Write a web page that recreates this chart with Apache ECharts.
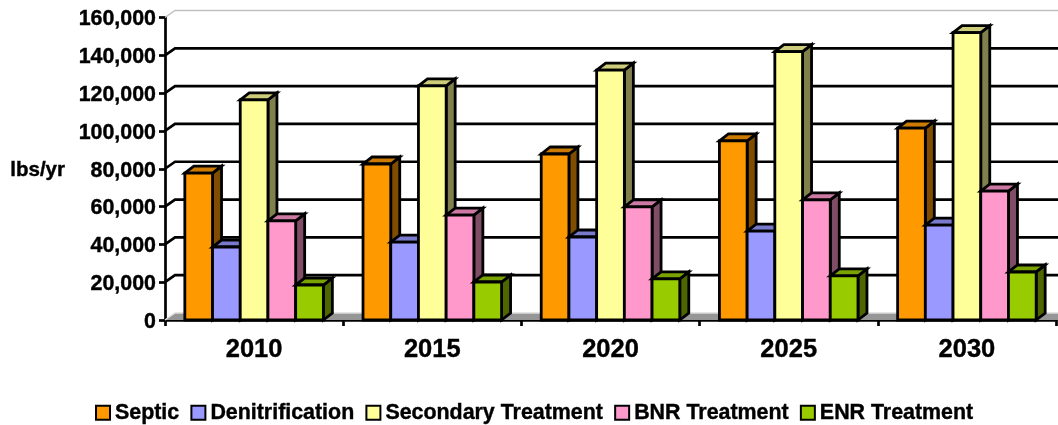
<!DOCTYPE html>
<html><head><meta charset="utf-8">
<style>html,body{margin:0;padding:0;background:#fff}#c{width:1058px;height:425px}</style>
<script src="https://cdn.jsdelivr.net/npm/echarts@6/dist/echarts.min.js"></script>
</head><body><div id="c"></div>
<script>
const categories = ['2010','2015','2020','2025','2030'];
const septic = [77700,82500,87800,94700,101500];
const denitrification = [38600,41200,43900,47000,50200];
const secondary = [116400,123800,132200,142000,152000];
const bnr = [52400,55500,59800,63500,68200];
const enr = [18500,20100,21700,23300,25400];
const yTicks = [0,20000,40000,60000,80000,100000,120000,140000,160000];
const DX = 10, DY = 7, BAR_FRAC = 0.1555, BDX = 9, BDY = 7;
const FONT = '"Liberation Sans",Arial,sans-serif';
const HEAVY = {textBorderColor:'#000',textBorderWidth:0.4};
const seriesDefs = [
  ['Septic',septic,'#FF9900','#CC7A00','#804D00'],
  ['Denitrification',denitrification,'#9999FF','#7A7ACC','#4D4D80'],
  ['Secondary Treatment',secondary,'#FFFF99','#CCCC7A','#80804D'],
  ['BNR Treatment',bnr,'#FF99CC','#CC7AA3','#804D66'],
  ['ENR Treatment',enr,'#99CC00','#7AA300','#4D6600']
];
const chart = echarts.init(document.getElementById('c'),null,{renderer:'canvas'});
const wall = {
  type:'custom', name:'wall', silent:true, z:1, clip:false,
  data: yTicks.map(v=>[0,v]),
  encode:{x:0,y:1},
  renderItem(params,api){
    const cs = params.coordSys, v = api.value(1), y = api.coord([0,v])[1];
    const x0 = cs.x, x1 = cs.x+cs.width+DX;
    const children = [];
    if (v===0){
      children.push({type:'polygon',shape:{points:[[x0,y],[x0+DX,y-DY],[x1,y-DY],[x1,y]]},style:{fill:'#969696'}});
      children.push({type:'polyline',shape:{points:[[x0,y],[x0+DX,y-DY],[x1,y-DY]]},style:{fill:'none',stroke:'#DDDDDD',lineWidth:1.5}});
    } else {
      const top = v===yTicks[yTicks.length-1];
      children.push({type:'polyline',shape:{points:[[x0,y],[x0+DX,y-DY],[x1,y-DY]]},
        style:{fill:'none',stroke:top?'#C0C0C0':'#000',lineWidth:top?1.5:2.7}});
    }
    return {type:'group',children};
  }
};
const bars = seriesDefs.map((d,j)=>({
  type:'custom', name:d[0], z:2+j, clip:false,
  itemStyle:{color:d[2],borderColor:'#000',borderWidth:2.5},
  data:d[1].map((v,i)=>[i,v]),
  encode:{x:0,y:1},
  renderItem(params,api){
    const i = api.value(0), v = api.value(1);
    const p = api.coord([i,v]), b = api.coord([i,0]);
    const w = api.size([1,0])[0]*BAR_FRAC;
    const l = p[0]+(j-2.5)*w, r = l+w, t = p[1], y0 = b[1];
    const st = f=>({fill:f,stroke:'#000',lineWidth:2.8,lineJoin:'miter'});
    return {type:'group',children:[
      {type:'polygon',shape:{points:[[r,t],[r+BDX,t-BDY],[r+BDX,y0-BDY],[r,y0]]},style:st(d[4])},
      {type:'polygon',shape:{points:[[l,t],[l+BDX,t-BDY],[r+BDX,t-BDY],[r,t]]},style:st(d[3])},
      {type:'rect',shape:{x:l,y:t,width:w,height:y0-t},style:st(d[2])}
    ]};
  }
}));
chart.setOption({
  animation:false,
  backgroundColor:'#fff',
  textStyle:{fontFamily:FONT,color:'#000'},
  grid:{left:165,right:2,top:17.5,bottom:105,containLabel:false},
  legend:{
    left:95,top:402,icon:'rect',itemWidth:14,itemHeight:14,itemGap:11,padding:0,
    data:seriesDefs.map(d=>d[0]),selectedMode:false,
    textStyle:Object.assign({fontFamily:FONT,fontSize:21.4,fontWeight:'bold',color:'#000'},HEAVY)
  },
  xAxis:{
    type:'category',data:categories,boundaryGap:true,
    axisLine:{lineStyle:{color:'#000',width:2.7}},
    axisTick:{show:true,length:6,lineStyle:{color:'#000',width:2.7}},
    axisLabel:Object.assign({fontSize:25.5,fontWeight:'bold',color:'#000',margin:17,fontFamily:FONT},HEAVY)
  },
  yAxis:{
    type:'value',min:0,max:160000,interval:20000,
    name:'lbs/yr',nameLocation:'middle',nameRotate:0,nameGap:100,
    nameTextStyle:Object.assign({fontSize:20.5,fontWeight:'bold',color:'#000',fontFamily:FONT,verticalAlign:'top',lineHeight:4},HEAVY),
    axisLine:{show:true,lineStyle:{color:'#000',width:2.7}},
    axisTick:{show:true,length:6,lineStyle:{color:'#000',width:2.7}},
    splitLine:{show:false},
    axisLabel:Object.assign({fontSize:21.4,fontWeight:'bold',color:'#000',margin:9,fontFamily:FONT,verticalAlign:'top',lineHeight:4,
      formatter:v=>v.toLocaleString('en-US')},HEAVY)
  },
  series:[wall].concat(bars)
});
</script></body></html>
